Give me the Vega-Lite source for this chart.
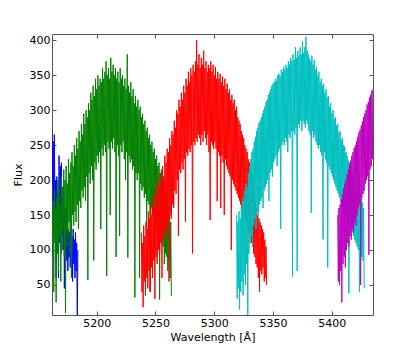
{
  "$schema": "https://vega.github.io/schema/vega-lite/v6.json",
  "autosize": {"type": "none"},
  "padding": {"left": 52, "top": 34, "right": 42, "bottom": 36},
  "width": 321,
  "height": 281,
  "background": "white",
  "config": {
    "view": {"stroke": "#555", "strokeWidth": 1},
    "axis": {
      "labelFont": "DejaVu Sans", "labelFontSize": 11, "labelColor": "black",
      "titleFont": "DejaVu Sans", "titleFontSize": 11, "titleFontWeight": "normal", "titleColor": "black",
      "grid": false, "domain": false, "tickColor": "#555", "tickSize": -4, "labelPadding": 6
    }
  },
  "datasets": {
    "b": [{"x":5162,"y":270},{"x":5162.5,"y":150},{"x":5163,"y":255},{"x":5163.5,"y":120},{"x":5164,"y":265},{"x":5164.5,"y":160},{"x":5165,"y":200},{"x":5165.5,"y":60},{"x":5166,"y":205},{"x":5166.5,"y":130},{"x":5167,"y":180},{"x":5167.5,"y":60},{"x":5168,"y":235},{"x":5168.5,"y":110},{"x":5169,"y":220},{"x":5169.5,"y":95},{"x":5170,"y":225},{"x":5170.5,"y":120},{"x":5171,"y":190},{"x":5171.5,"y":100},{"x":5172,"y":185},{"x":5172.5,"y":45},{"x":5173,"y":160},{"x":5173.5,"y":90},{"x":5174,"y":150},{"x":5174.5,"y":85},{"x":5175,"y":140},{"x":5175.5,"y":70},{"x":5176,"y":130},{"x":5176.5,"y":90},{"x":5177,"y":125},{"x":5177.5,"y":75},{"x":5178,"y":135},{"x":5178.5,"y":95},{"x":5179,"y":120},{"x":5179.5,"y":55},{"x":5180,"y":130},{"x":5180.5,"y":80},{"x":5181,"y":115},{"x":5181.5,"y":60},{"x":5182,"y":125},{"x":5182.5,"y":70},{"x":5183,"y":110},{"x":5183.5,"y":5},{"x":5184,"y":100}],
    "g": [{"x":5162,"y":195},{"x":5162.5,"y":90},{"x":5163,"y":170},{"x":5163.5,"y":40},{"x":5164,"y":185},{"x":5164.5,"y":110},{"x":5165,"y":160},{"x":5165.5,"y":25},{"x":5166,"y":175},{"x":5166.5,"y":95},{"x":5167,"y":200},{"x":5167.5,"y":70},{"x":5168,"y":185},{"x":5168.5,"y":120},{"x":5169,"y":165},{"x":5169.5,"y":55},{"x":5170,"y":205},{"x":5170.5,"y":100},{"x":5171,"y":190},{"x":5171.5,"y":130},{"x":5172,"y":215},{"x":5172.5,"y":90},{"x":5173,"y":200},{"x":5173.5,"y":10},{"x":5174,"y":220},{"x":5174.5,"y":125},{"x":5175,"y":195},{"x":5175.5,"y":105},{"x":5176,"y":230},{"x":5176.5,"y":140},{"x":5177,"y":210},{"x":5177.5,"y":95},{"x":5178,"y":225},{"x":5178.5,"y":60},{"x":5179,"y":240},{"x":5179.5,"y":150},{"x":5180,"y":220},{"x":5180.5,"y":135},{"x":5181,"y":250},{"x":5181.5,"y":155},{"x":5182,"y":235},{"x":5182.5,"y":140},{"x":5183,"y":260},{"x":5183.5,"y":165},{"x":5184,"y":245},{"x":5184.5,"y":130},{"x":5185,"y":270},{"x":5185.5,"y":170},{"x":5186,"y":255},{"x":5186.5,"y":160},{"x":5187,"y":280},{"x":5187.5,"y":185},{"x":5188,"y":265},{"x":5188.5,"y":175},{"x":5189,"y":295},{"x":5189.5,"y":190},{"x":5190,"y":280},{"x":5190.5,"y":170},{"x":5191,"y":300},{"x":5191.5,"y":205},{"x":5192,"y":290},{"x":5192.5,"y":57},{"x":5193,"y":310},{"x":5193.5,"y":210},{"x":5194,"y":300},{"x":5194.5,"y":195},{"x":5195,"y":325},{"x":5195.5,"y":220},{"x":5196,"y":315},{"x":5196.5,"y":200},{"x":5197,"y":335},{"x":5197.5,"y":85},{"x":5198,"y":320},{"x":5198.5,"y":225},{"x":5199,"y":345},{"x":5199.5,"y":215},{"x":5200,"y":330},{"x":5200.5,"y":235},{"x":5201,"y":350},{"x":5201.5,"y":225},{"x":5202,"y":335},{"x":5202.5,"y":240},{"x":5203,"y":345},{"x":5203.5,"y":130},{"x":5204,"y":340},{"x":5204.5,"y":245},{"x":5205,"y":360},{"x":5205.5,"y":235},{"x":5206,"y":345},{"x":5206.5,"y":250},{"x":5207,"y":355},{"x":5207.5,"y":240},{"x":5208,"y":370},{"x":5208.5,"y":63},{"x":5209,"y":350},{"x":5209.5,"y":255},{"x":5210,"y":360},{"x":5210.5,"y":245},{"x":5211,"y":345},{"x":5211.5,"y":150},{"x":5212,"y":375},{"x":5212.5,"y":255},{"x":5213,"y":355},{"x":5213.5,"y":245},{"x":5214,"y":365},{"x":5214.5,"y":260},{"x":5215,"y":350},{"x":5215.5,"y":240},{"x":5216,"y":360},{"x":5216.5,"y":90},{"x":5217,"y":345},{"x":5217.5,"y":250},{"x":5218,"y":355},{"x":5218.5,"y":235},{"x":5219,"y":340},{"x":5219.5,"y":120},{"x":5220,"y":360},{"x":5220.5,"y":250},{"x":5221,"y":345},{"x":5221.5,"y":240},{"x":5222,"y":350},{"x":5222.5,"y":255},{"x":5223,"y":335},{"x":5223.5,"y":230},{"x":5224,"y":345},{"x":5224.5,"y":200},{"x":5225,"y":330},{"x":5225.5,"y":240},{"x":5226,"y":380},{"x":5226.5,"y":89},{"x":5227,"y":335},{"x":5227.5,"y":235},{"x":5228,"y":325},{"x":5228.5,"y":225},{"x":5229,"y":340},{"x":5229.5,"y":230},{"x":5230,"y":320},{"x":5230.5,"y":215},{"x":5231,"y":330},{"x":5231.5,"y":220},{"x":5232,"y":310},{"x":5232.5,"y":32},{"x":5233,"y":320},{"x":5233.5,"y":210},{"x":5234,"y":305},{"x":5234.5,"y":200},{"x":5235,"y":315},{"x":5235.5,"y":210},{"x":5236,"y":300},{"x":5236.5,"y":60},{"x":5237,"y":305},{"x":5237.5,"y":195},{"x":5238,"y":290},{"x":5238.5,"y":185},{"x":5239,"y":295},{"x":5239.5,"y":190},{"x":5240,"y":280},{"x":5240.5,"y":175},{"x":5241,"y":285},{"x":5241.5,"y":180},{"x":5242,"y":270},{"x":5242.5,"y":120},{"x":5243,"y":275},{"x":5243.5,"y":170},{"x":5244,"y":260},{"x":5244.5,"y":165},{"x":5245,"y":265},{"x":5245.5,"y":40},{"x":5246,"y":250},{"x":5246.5,"y":160},{"x":5247,"y":255},{"x":5247.5,"y":150},{"x":5248,"y":240},{"x":5248.5,"y":145},{"x":5249,"y":245},{"x":5249.5,"y":100},{"x":5250,"y":230},{"x":5250.5,"y":140},{"x":5251,"y":235},{"x":5251.5,"y":130},{"x":5252,"y":220},{"x":5252.5,"y":125},{"x":5253,"y":225},{"x":5253.5,"y":29},{"x":5254,"y":210},{"x":5254.5,"y":115},{"x":5255,"y":215},{"x":5255.5,"y":110},{"x":5256,"y":200},{"x":5256.5,"y":105},{"x":5257,"y":205},{"x":5257.5,"y":80},{"x":5258,"y":190},{"x":5258.5,"y":95},{"x":5259,"y":185},{"x":5259.5,"y":90},{"x":5260,"y":175},{"x":5260.5,"y":70},{"x":5261,"y":165},{"x":5261.5,"y":85},{"x":5262,"y":150},{"x":5262.5,"y":60},{"x":5263,"y":140},{"x":5263.5,"y":34}],
    "r": [{"x":5238,"y":125},{"x":5238.5,"y":40},{"x":5239,"y":110},{"x":5239.5,"y":18},{"x":5240,"y":135},{"x":5240.5,"y":55},{"x":5241,"y":120},{"x":5241.5,"y":35},{"x":5242,"y":140},{"x":5242.5,"y":60},{"x":5243,"y":130},{"x":5243.5,"y":45},{"x":5244,"y":155},{"x":5244.5,"y":70},{"x":5245,"y":145},{"x":5245.5,"y":40},{"x":5246,"y":165},{"x":5246.5,"y":75},{"x":5247,"y":150},{"x":5247.5,"y":60},{"x":5248,"y":175},{"x":5248.5,"y":85},{"x":5249,"y":160},{"x":5249.5,"y":30},{"x":5250,"y":190},{"x":5250.5,"y":90},{"x":5251,"y":180},{"x":5251.5,"y":80},{"x":5252,"y":200},{"x":5252.5,"y":100},{"x":5253,"y":190},{"x":5253.5,"y":95},{"x":5254,"y":210},{"x":5254.5,"y":110},{"x":5255,"y":195},{"x":5255.5,"y":60},{"x":5256,"y":220},{"x":5256.5,"y":120},{"x":5257,"y":205},{"x":5257.5,"y":115},{"x":5258,"y":235},{"x":5258.5,"y":130},{"x":5259,"y":225},{"x":5259.5,"y":125},{"x":5260,"y":245},{"x":5260.5,"y":140},{"x":5261,"y":240},{"x":5261.5,"y":55},{"x":5262,"y":260},{"x":5262.5,"y":150},{"x":5263,"y":250},{"x":5263.5,"y":145},{"x":5264,"y":270},{"x":5264.5,"y":165},{"x":5265,"y":265},{"x":5265.5,"y":160},{"x":5266,"y":285},{"x":5266.5,"y":185},{"x":5267,"y":275},{"x":5267.5,"y":180},{"x":5268,"y":300},{"x":5268.5,"y":200},{"x":5269,"y":295},{"x":5269.5,"y":120},{"x":5270,"y":315},{"x":5270.5,"y":215},{"x":5271,"y":305},{"x":5271.5,"y":210},{"x":5272,"y":325},{"x":5272.5,"y":225},{"x":5273,"y":315},{"x":5273.5,"y":215},{"x":5274,"y":335},{"x":5274.5,"y":230},{"x":5275,"y":325},{"x":5275.5,"y":140},{"x":5276,"y":345},{"x":5276.5,"y":240},{"x":5277,"y":335},{"x":5277.5,"y":235},{"x":5278,"y":355},{"x":5278.5,"y":245},{"x":5279,"y":340},{"x":5279.5,"y":240},{"x":5280,"y":360},{"x":5280.5,"y":250},{"x":5281,"y":350},{"x":5281.5,"y":95},{"x":5282,"y":365},{"x":5282.5,"y":255},{"x":5283,"y":355},{"x":5283.5,"y":250},{"x":5284,"y":370},{"x":5284.5,"y":260},{"x":5285,"y":400},{"x":5285.5,"y":255},{"x":5286,"y":365},{"x":5286.5,"y":265},{"x":5287,"y":380},{"x":5287.5,"y":260},{"x":5288,"y":360},{"x":5288.5,"y":250},{"x":5289,"y":375},{"x":5289.5,"y":265},{"x":5290,"y":365},{"x":5290.5,"y":255},{"x":5291,"y":385},{"x":5291.5,"y":270},{"x":5292,"y":360},{"x":5292.5,"y":260},{"x":5293,"y":370},{"x":5293.5,"y":250},{"x":5294,"y":355},{"x":5294.5,"y":265},{"x":5295,"y":365},{"x":5295.5,"y":240},{"x":5296,"y":360},{"x":5296.5,"y":143},{"x":5297,"y":370},{"x":5297.5,"y":255},{"x":5298,"y":355},{"x":5298.5,"y":250},{"x":5299,"y":365},{"x":5299.5,"y":245},{"x":5300,"y":350},{"x":5300.5,"y":255},{"x":5301,"y":362},{"x":5301.5,"y":245},{"x":5302,"y":345},{"x":5302.5,"y":170},{"x":5303,"y":355},{"x":5303.5,"y":240},{"x":5304,"y":345},{"x":5304.5,"y":235},{"x":5305,"y":352},{"x":5305.5,"y":160},{"x":5306,"y":340},{"x":5306.5,"y":235},{"x":5307,"y":348},{"x":5307.5,"y":225},{"x":5308,"y":335},{"x":5308.5,"y":150},{"x":5309,"y":345},{"x":5309.5,"y":230},{"x":5310,"y":330},{"x":5310.5,"y":220},{"x":5311,"y":338},{"x":5311.5,"y":215},{"x":5312,"y":325},{"x":5312.5,"y":210},{"x":5313,"y":330},{"x":5313.5,"y":205},{"x":5314,"y":315},{"x":5314.5,"y":100},{"x":5315,"y":322},{"x":5315.5,"y":200},{"x":5316,"y":310},{"x":5316.5,"y":195},{"x":5317,"y":315},{"x":5317.5,"y":190},{"x":5318,"y":300},{"x":5318.5,"y":185},{"x":5319,"y":305},{"x":5319.5,"y":180},{"x":5320,"y":290},{"x":5320.5,"y":175},{"x":5321,"y":285},{"x":5321.5,"y":170},{"x":5322,"y":280},{"x":5322.5,"y":165},{"x":5323,"y":270},{"x":5323.5,"y":160},{"x":5324,"y":265},{"x":5324.5,"y":150},{"x":5325,"y":260},{"x":5325.5,"y":155},{"x":5326,"y":250},{"x":5326.5,"y":145},{"x":5327,"y":245},{"x":5327.5,"y":140},{"x":5328,"y":240},{"x":5328.5,"y":130},{"x":5329,"y":230},{"x":5329.5,"y":125},{"x":5330,"y":225},{"x":5330.5,"y":120},{"x":5331,"y":215},{"x":5331.5,"y":110},{"x":5332,"y":210},{"x":5332.5,"y":105},{"x":5333,"y":200},{"x":5333.5,"y":95},{"x":5334,"y":185},{"x":5334.5,"y":90},{"x":5335,"y":170},{"x":5335.5,"y":80},{"x":5336,"y":160},{"x":5336.5,"y":75},{"x":5337,"y":150},{"x":5337.5,"y":60},{"x":5338,"y":145},{"x":5338.5,"y":40},{"x":5339,"y":140},{"x":5339.5,"y":70},{"x":5340,"y":135},{"x":5340.5,"y":65},{"x":5341,"y":130},{"x":5341.5,"y":75},{"x":5342,"y":125},{"x":5342.5,"y":55},{"x":5343,"y":115},{"x":5343.5,"y":60},{"x":5344,"y":105},{"x":5344.5,"y":50}],
    "c": [{"x":5319,"y":150},{"x":5319.5,"y":30},{"x":5320,"y":140},{"x":5320.5,"y":45},{"x":5321,"y":155},{"x":5321.5,"y":15},{"x":5322,"y":145},{"x":5322.5,"y":40},{"x":5323,"y":160},{"x":5323.5,"y":55},{"x":5324,"y":170},{"x":5324.5,"y":35},{"x":5325,"y":175},{"x":5325.5,"y":65},{"x":5326,"y":185},{"x":5326.5,"y":50},{"x":5327,"y":195},{"x":5327.5,"y":80},{"x":5328,"y":190},{"x":5328.5,"y":5},{"x":5329,"y":210},{"x":5329.5,"y":95},{"x":5330,"y":220},{"x":5330.5,"y":110},{"x":5331,"y":230},{"x":5331.5,"y":120},{"x":5332,"y":240},{"x":5332.5,"y":105},{"x":5333,"y":245},{"x":5333.5,"y":135},{"x":5334,"y":255},{"x":5334.5,"y":145},{"x":5335,"y":262},{"x":5335.5,"y":130},{"x":5336,"y":270},{"x":5336.5,"y":155},{"x":5337,"y":275},{"x":5337.5,"y":150},{"x":5338,"y":282},{"x":5338.5,"y":165},{"x":5339,"y":285},{"x":5339.5,"y":170},{"x":5340,"y":290},{"x":5340.5,"y":175},{"x":5341,"y":295},{"x":5341.5,"y":160},{"x":5342,"y":300},{"x":5342.5,"y":185},{"x":5343,"y":305},{"x":5343.5,"y":190},{"x":5344,"y":312},{"x":5344.5,"y":195},{"x":5345,"y":315},{"x":5345.5,"y":200},{"x":5346,"y":322},{"x":5346.5,"y":170},{"x":5347,"y":325},{"x":5347.5,"y":210},{"x":5348,"y":330},{"x":5348.5,"y":215},{"x":5349,"y":335},{"x":5349.5,"y":205},{"x":5350,"y":338},{"x":5350.5,"y":225},{"x":5351,"y":340},{"x":5351.5,"y":230},{"x":5352,"y":345},{"x":5352.5,"y":235},{"x":5353,"y":342},{"x":5353.5,"y":220},{"x":5354,"y":350},{"x":5354.5,"y":240},{"x":5355,"y":352},{"x":5355.5,"y":245},{"x":5356,"y":348},{"x":5356.5,"y":130},{"x":5357,"y":358},{"x":5357.5,"y":250},{"x":5358,"y":355},{"x":5358.5,"y":255},{"x":5359,"y":362},{"x":5359.5,"y":250},{"x":5360,"y":358},{"x":5360.5,"y":260},{"x":5361,"y":365},{"x":5361.5,"y":255},{"x":5362,"y":360},{"x":5362.5,"y":240},{"x":5363,"y":370},{"x":5363.5,"y":265},{"x":5364,"y":365},{"x":5364.5,"y":260},{"x":5365,"y":375},{"x":5365.5,"y":270},{"x":5366,"y":370},{"x":5366.5,"y":62},{"x":5367,"y":380},{"x":5367.5,"y":270},{"x":5368,"y":372},{"x":5368.5,"y":265},{"x":5369,"y":390},{"x":5369.5,"y":275},{"x":5370,"y":375},{"x":5370.5,"y":70},{"x":5371,"y":385},{"x":5371.5,"y":280},{"x":5372,"y":378},{"x":5372.5,"y":275},{"x":5373,"y":390},{"x":5373.5,"y":285},{"x":5374,"y":380},{"x":5374.5,"y":270},{"x":5375,"y":398},{"x":5375.5,"y":285},{"x":5376,"y":382},{"x":5376.5,"y":280},{"x":5377,"y":390},{"x":5377.5,"y":275},{"x":5378,"y":405},{"x":5378.5,"y":285},{"x":5379,"y":385},{"x":5379.5,"y":280},{"x":5380,"y":380},{"x":5380.5,"y":270},{"x":5381,"y":375},{"x":5381.5,"y":265},{"x":5382,"y":370},{"x":5382.5,"y":153},{"x":5383,"y":378},{"x":5383.5,"y":270},{"x":5384,"y":365},{"x":5384.5,"y":260},{"x":5385,"y":372},{"x":5385.5,"y":265},{"x":5386,"y":358},{"x":5386.5,"y":255},{"x":5387,"y":362},{"x":5387.5,"y":250},{"x":5388,"y":350},{"x":5388.5,"y":245},{"x":5389,"y":355},{"x":5389.5,"y":250},{"x":5390,"y":340},{"x":5390.5,"y":240},{"x":5391,"y":345},{"x":5391.5,"y":235},{"x":5392,"y":335},{"x":5392.5,"y":115},{"x":5393,"y":338},{"x":5393.5,"y":240},{"x":5394,"y":325},{"x":5394.5,"y":230},{"x":5395,"y":330},{"x":5395.5,"y":225},{"x":5396,"y":318},{"x":5396.5,"y":75},{"x":5397,"y":320},{"x":5397.5,"y":220},{"x":5398,"y":305},{"x":5398.5,"y":215},{"x":5399,"y":310},{"x":5399.5,"y":210},{"x":5400,"y":295},{"x":5400.5,"y":205},{"x":5401,"y":300},{"x":5401.5,"y":200},{"x":5402,"y":288},{"x":5402.5,"y":195},{"x":5403,"y":290},{"x":5403.5,"y":190},{"x":5404,"y":278},{"x":5404.5,"y":185},{"x":5405,"y":280},{"x":5405.5,"y":180},{"x":5406,"y":268},{"x":5406.5,"y":175},{"x":5407,"y":270},{"x":5407.5,"y":170},{"x":5408,"y":258},{"x":5408.5,"y":165},{"x":5409,"y":260},{"x":5409.5,"y":160},{"x":5410,"y":250},{"x":5410.5,"y":155},{"x":5411,"y":248},{"x":5411.5,"y":150},{"x":5412,"y":240},{"x":5412.5,"y":145},{"x":5413,"y":235},{"x":5413.5,"y":140},{"x":5414,"y":228},{"x":5414.5,"y":38},{"x":5415,"y":225},{"x":5415.5,"y":135},{"x":5416,"y":218},{"x":5416.5,"y":130},{"x":5417,"y":215},{"x":5417.5,"y":125},{"x":5418,"y":208},{"x":5418.5,"y":120},{"x":5419,"y":205},{"x":5419.5,"y":115},{"x":5420,"y":198},{"x":5420.5,"y":110},{"x":5421,"y":195},{"x":5421.5,"y":105},{"x":5422,"y":188},{"x":5422.5,"y":100},{"x":5423,"y":185},{"x":5423.5,"y":40},{"x":5424,"y":178},{"x":5424.5,"y":95},{"x":5425,"y":175},{"x":5425.5,"y":90},{"x":5426,"y":168},{"x":5426.5,"y":85},{"x":5427,"y":160},{"x":5427.5,"y":45}],
    "m": [{"x":5405,"y":150},{"x":5405.5,"y":55},{"x":5406,"y":160},{"x":5406.5,"y":50},{"x":5407,"y":165},{"x":5407.5,"y":70},{"x":5408,"y":172},{"x":5408.5,"y":25},{"x":5409,"y":180},{"x":5409.5,"y":80},{"x":5410,"y":188},{"x":5410.5,"y":90},{"x":5411,"y":195},{"x":5411.5,"y":75},{"x":5412,"y":200},{"x":5412.5,"y":100},{"x":5413,"y":208},{"x":5413.5,"y":110},{"x":5414,"y":215},{"x":5414.5,"y":105},{"x":5415,"y":222},{"x":5415.5,"y":120},{"x":5416,"y":228},{"x":5416.5,"y":115},{"x":5417,"y":235},{"x":5417.5,"y":130},{"x":5418,"y":240},{"x":5418.5,"y":125},{"x":5419,"y":246},{"x":5419.5,"y":140},{"x":5420,"y":250},{"x":5420.5,"y":135},{"x":5421,"y":256},{"x":5421.5,"y":150},{"x":5422,"y":262},{"x":5422.5,"y":160},{"x":5423,"y":268},{"x":5423.5,"y":165},{"x":5424,"y":272},{"x":5424.5,"y":50},{"x":5425,"y":278},{"x":5425.5,"y":175},{"x":5426,"y":284},{"x":5426.5,"y":180},{"x":5427,"y":290},{"x":5427.5,"y":185},{"x":5428,"y":295},{"x":5428.5,"y":195},{"x":5429,"y":300},{"x":5429.5,"y":200},{"x":5430,"y":308},{"x":5430.5,"y":205},{"x":5431,"y":312},{"x":5431.5,"y":93},{"x":5432,"y":318},{"x":5432.5,"y":215},{"x":5433,"y":322},{"x":5433.5,"y":220},{"x":5434,"y":328},{"x":5434.5,"y":230},{"x":5435,"y":330}]
  },
  "layer": [
    {
      "data": {"name": "b"},
      "mark": {"type": "line", "color": "#0000ff", "strokeWidth": 1, "clip": true},
      "encoding": {
        "x": {"field": "x", "type": "quantitative", "scale": {"domain": [5162, 5435], "nice": false, "zero": false},
              "axis": {"title": "Wavelength [Å]", "values": [5200, 5250, 5300, 5350, 5400], "format": "d", "titlePadding": 3}},
        "y": {"field": "y", "type": "quantitative", "scale": {"domain": [7, 409], "nice": false, "zero": false},
              "axis": {"title": "Flux", "values": [50, 100, 150, 200, 250, 300, 350, 400], "titlePadding": 6}}
      }
    },
    {
      "data": {"name": "g"},
      "mark": {"type": "line", "color": "#008000", "strokeWidth": 1, "clip": true},
      "encoding": {
        "x": {"field": "x", "type": "quantitative", "axis": null},
        "y": {"field": "y", "type": "quantitative", "axis": null}
      }
    },
    {
      "data": {"name": "r"},
      "mark": {"type": "line", "color": "#ff0000", "strokeWidth": 1, "clip": true},
      "encoding": {
        "x": {"field": "x", "type": "quantitative", "axis": null},
        "y": {"field": "y", "type": "quantitative", "axis": null}
      }
    },
    {
      "data": {"name": "c"},
      "mark": {"type": "line", "color": "#00bfbf", "strokeWidth": 1, "clip": true},
      "encoding": {
        "x": {"field": "x", "type": "quantitative", "axis": null},
        "y": {"field": "y", "type": "quantitative", "axis": null}
      }
    },
    {
      "data": {"name": "m"},
      "mark": {"type": "line", "color": "#bf00bf", "strokeWidth": 1, "clip": true},
      "encoding": {
        "x": {"field": "x", "type": "quantitative",
              "axis": {"orient": "top", "labels": false, "title": null, "values": [5200, 5250, 5300, 5350, 5400]}},
        "y": {"field": "y", "type": "quantitative",
              "axis": {"orient": "right", "labels": false, "title": null, "values": [50, 100, 150, 200, 250, 300, 350, 400]}}
      }
    }
  ],
  "resolve": {"axis": {"x": "independent", "y": "independent"}}
}
